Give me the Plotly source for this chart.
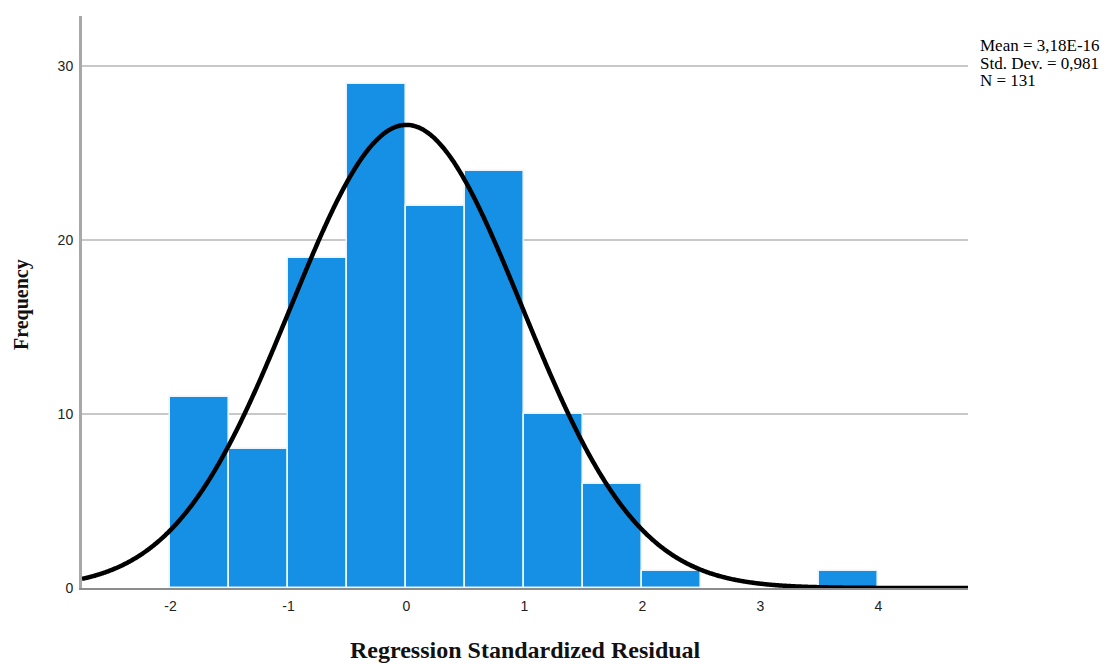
import numpy as np
import plotly.graph_objects as go

bin_left = [-2.0, -1.5, -1.0, -0.5, 0.0, 0.5, 1.0, 1.5, 2.0, 3.5]
counts = [11, 8, 19, 29, 22, 24, 10, 6, 1, 1]
bin_width = 0.5
mean = 3.18e-16
std = 0.981
n = 131
x_ticks = [-2, -1, 0, 1, 2, 3, 4]
x_tick_text = ["-2", "-1", "0", "1", "2", "3", "4"]
y_ticks = [0, 10, 20, 30]
stats_lines = ["Mean = 3,18E-16", "Std. Dev. = 0,981", f"N = {n}"]

centers = [b + bin_width / 2 for b in bin_left]

xs = np.linspace(-2.75, 4.76, 800)
ys = n * bin_width / (std * np.sqrt(2 * np.pi)) * np.exp(-0.5 * ((xs - mean) / std) ** 2)

fig = go.Figure()
fig.add_trace(go.Bar(
    x=centers, y=counts, width=bin_width,
    marker=dict(color="#1590e4", line=dict(color="#eaf4fc", width=1.6)),
    hoverinfo="x+y",
))
fig.add_trace(go.Scatter(
    x=xs, y=ys, mode="lines",
    line=dict(color="black", width=4.5, shape="spline"),
    hoverinfo="skip",
))

serif = "Liberation Serif, Times New Roman, serif"
sans = "Liberation Sans, Arial, sans-serif"

annotations = [
    dict(xref="paper", yref="paper", x=0.5, y=-0.108, xanchor="center", yanchor="middle",
         showarrow=False, text="<b>Regression Standardized Residual</b>",
         font=dict(family=serif, size=24, color="#111")),
    dict(xref="paper", yref="paper", x=-0.0677, y=0.4948, xanchor="center", yanchor="middle",
         showarrow=False, textangle=-90, text="<b>Frequency</b>",
         font=dict(family=serif, size=20, color="#111")),
]
for i, line in enumerate(stats_lines):
    annotations.append(dict(
        xref="paper", yref="paper", x=1.0113, y=[0.9493, 0.9178, 0.8881][i],
        xanchor="left", yanchor="middle", showarrow=False, text=line,
        font=dict(family=serif, size=17, color="black"),
    ))

fig.update_layout(
    width=1110, height=664,
    margin=dict(l=74, r=150, t=8, b=84),
    plot_bgcolor="white", paper_bgcolor="white",
    showlegend=False,
    bargap=0,
    xaxis=dict(
        range=[-2.75, 4.76], tickvals=x_ticks, ticktext=x_tick_text,
        showgrid=False, zeroline=False, automargin=False,
        showline=True, linecolor="#8c8c8c", linewidth=2, ticks="", ticklen=0,
        ticklabelstandoff=4,
        tickfont=dict(family=sans, size=14, color="#222"),
    ),
    yaxis=dict(
        range=[0, 32.9], tickvals=y_ticks, showgrid=True, gridcolor="#c8c8c8", gridwidth=1.5,
        zeroline=False, showline=True, linecolor="#a8a8a8", linewidth=3, ticks="",
        automargin=False, ticklabelstandoff=3,
        tickfont=dict(family=sans, size=14, color="#222"),
    ),
    annotations=annotations,
)

fig.write_html("out.html")
